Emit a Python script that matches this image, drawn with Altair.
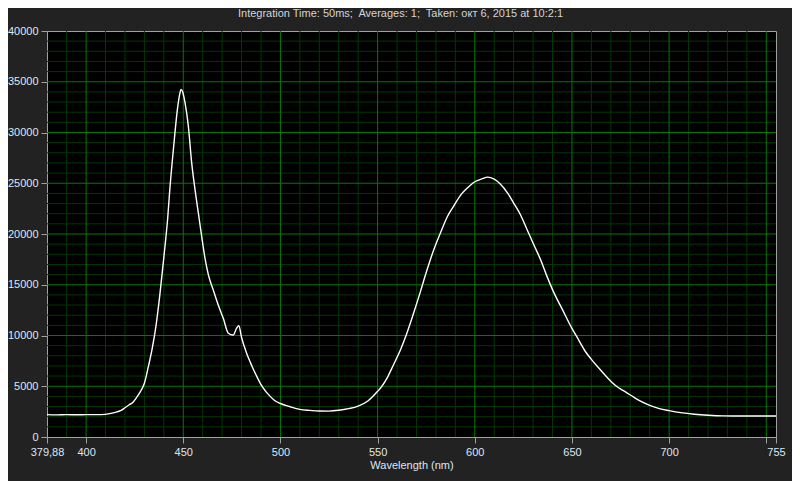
import altair as alt
import pandas as pd

# Spectrum samples (wavelength nm, counts)
wavelength = [379.88, 385, 390, 395, 400, 405, 410, 412, 415, 418, 420, 422, 424, 426, 428,
              430, 432, 434, 436, 438, 440, 442, 443, 445, 447, 448.3, 448.8, 449.7, 450.9,
              452.6, 454.3, 456, 457.7, 459.4, 461.1, 462.9, 465.4, 468, 470.6, 473.2, 475.7,
              477.4, 478.6, 480, 482.5, 484.5, 486, 488, 490, 492, 494, 497, 500, 505, 510,
              515, 520, 525, 530, 535, 540, 545, 550, 552, 555, 558, 562, 565, 568, 572, 575,
              579, 582, 586, 589, 593, 596, 600, 604, 606.5, 610, 613, 617, 620, 623.5, 627,
              630.5, 634, 637, 641, 645, 650, 653.5, 657, 660, 664, 667, 670.5, 674, 677.5, 682,
              685, 690, 695, 700, 706, 713, 720, 728, 740, 755]
counts = [2200, 2180, 2200, 2190, 2200, 2200, 2230, 2300, 2420, 2620, 2880, 3150, 3400, 3900, 4500,
          5300, 6900, 8700, 11000, 14100, 17700, 21600, 24200, 28500, 32300, 33900, 34250, 34000, 32950,
          30650, 27060, 24440, 22150, 19860, 17700, 16000, 14500, 13000, 11690, 10220, 10050,
          10700, 10970, 9800, 8300, 7350, 6700, 5900, 5150, 4600, 4150, 3600, 3300, 2980, 2720,
          2620, 2560, 2550, 2630, 2790, 3050, 3550, 4500, 4950, 5850, 7050, 8700, 10200, 11900, 14300, 16200,
          18500, 19950, 21750, 22700, 23900, 24500, 25150, 25450, 25600, 25400, 24950, 24000, 23050, 21900, 20400,
          18900, 17400, 15900, 14100, 12600, 10700, 9550, 8400, 7650, 6750, 6100, 5400, 4850, 4450, 3900,
          3550, 3120, 2800, 2600, 2400, 2240, 2140, 2080, 2070, 2070]

x_ticks = [379.88, 400, 450, 500, 550, 600, 650, 700, 750, 755]
y_ticks = [0, 5000, 10000, 15000, 20000, 25000, 30000, 35000, 40000]
x_major_grid = [400, 450, 500, 550, 600, 650, 700, 750]
x_minor_grid = [390, 410, 420, 430, 440, 460, 470, 480, 490, 510, 520, 530, 540, 560, 570, 580,
                590, 610, 620, 630, 640, 660, 670, 680, 690, 710, 720, 730, 740]
y_major_grid = [5000, 10000, 15000, 20000, 25000, 30000, 35000]
y_minor_grid = [v for v in range(1000, 40000, 1000) if v % 5000 != 0]

title_text = "Integration Time: 50ms;\u00a0 Averages: 1;\u00a0 Taken: окт 6, 2015 at 10:2:1"

spec_df = pd.DataFrame({"wl": wavelength, "val": counts})

FONT = "Liberation Sans"
LABEL_COLOR = "#dde7f3"
MAJOR = "#007a00"
MINOR = "#003800"

xscale = alt.Scale(domain=[379.88, 755], nice=False, zero=False)
yscale = alt.Scale(domain=[0, 40000], nice=False, zero=False)

x_axis = alt.Axis(
    values=x_ticks, title="Wavelength (nm)", grid=False,
    labelExpr="datum.value == 750 ? '' : (datum.value < 380 ? '379,88' : datum.label)",
    labelOverlap=False, labelFlush=False, labelBound=False,
    tickSize=6, labelPadding=3, titlePadding=2,
)
y_axis = alt.Axis(
    values=y_ticks, title=None, grid=False, format="d",
    labelOverlap=False, labelFlush=False, tickSize=6, labelPadding=3,
)

X = alt.X("wl:Q", scale=xscale, axis=x_axis)
Y = alt.Y("val:Q", scale=yscale, axis=y_axis)

vminor = alt.Chart(pd.DataFrame({"wl": x_minor_grid})).mark_rule(color=MINOR, strokeWidth=1).encode(x=X)
vmajor = alt.Chart(pd.DataFrame({"wl": x_major_grid})).mark_rule(color=MAJOR, strokeWidth=1).encode(x=X)
hminor = alt.Chart(pd.DataFrame({"val": y_minor_grid})).mark_rule(color=MINOR, strokeWidth=1).encode(y=Y)
hmajor = alt.Chart(pd.DataFrame({"val": y_major_grid})).mark_rule(color=MAJOR, strokeWidth=1).encode(y=Y)

line = alt.Chart(spec_df).mark_line(color="#ffffff", strokeWidth=1.4, interpolate="monotone").encode(
    x=X, y=Y,
)

chart = alt.layer(vminor, hminor, vmajor, hmajor, line).properties(
    width=729, height=406,
    title=alt.TitleParams(title_text, anchor="middle", fontSize=11, font=FONT,
                          fontWeight="normal", color="#d4d4d4", offset=6, dx=-11),
    autosize=alt.AutoSizeParams(type="none"),
    padding={"left": 39, "top": 23, "right": 16, "bottom": 44},
).configure(
    background="#222222",
).configure_view(
    fill="#000000", stroke="#a0a0a0", strokeWidth=1,
).configure_axis(
    domainColor="#a0a0a0", tickColor="#a0a0a0", labelColor=LABEL_COLOR, titleColor=LABEL_COLOR,
    labelFont=FONT, titleFont=FONT, labelFontSize=11, titleFontSize=11, titleFontWeight="normal",
)

chart.save("out.html", embed_options={"renderer": "svg", "actions": False})
